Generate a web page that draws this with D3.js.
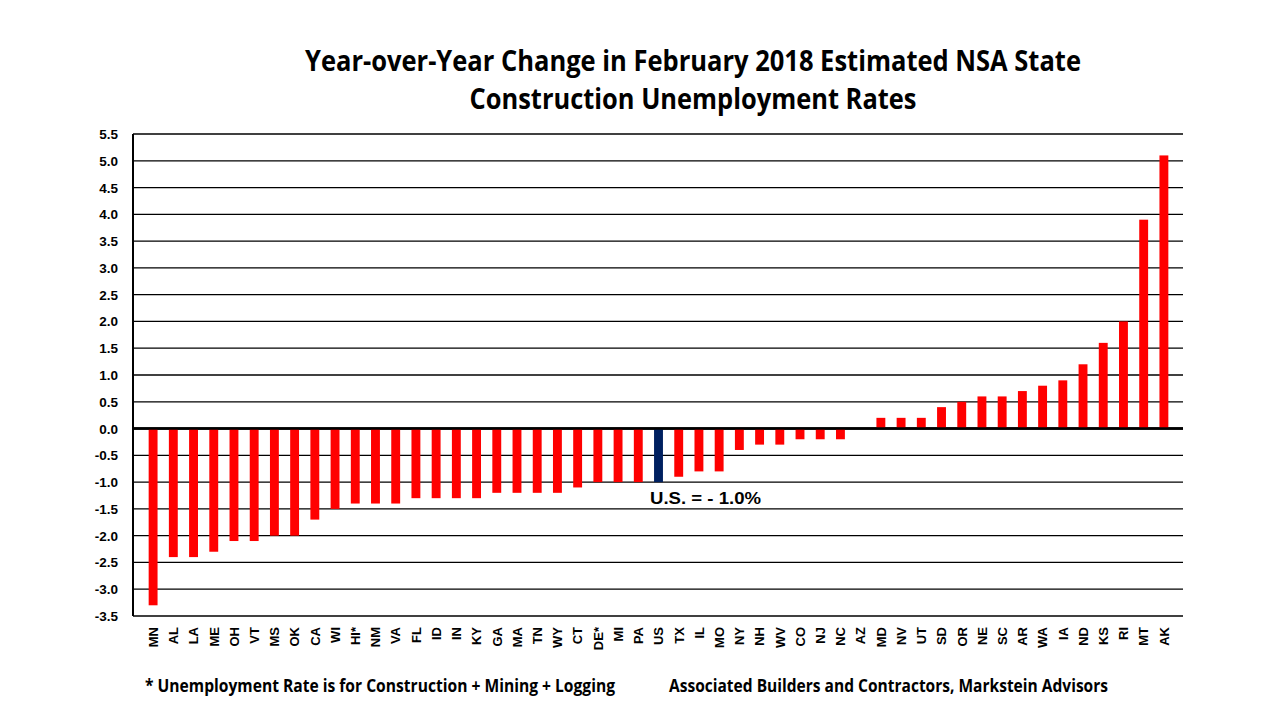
<!DOCTYPE html>
<html>
<head>
<meta charset="utf-8">
<script src="https://cdn.jsdelivr.net/npm/d3@7"></script>
<style>
	body { margin: 0; background: #fff; }
	svg { display: block; }
	.tick-label { font-family: "Liberation Sans", Arial, sans-serif; font-weight: bold; font-size: 13.5px; fill: #000; }
	.state-label { font-family: "Liberation Sans", Arial, sans-serif; font-weight: bold; font-size: 13px; fill: #000; }
	.title { font-family: "Open Sans", "Noto Sans", sans-serif; font-weight: bold; font-size: 29px; fill: #000; }
	.note { font-family: "Open Sans", "Noto Sans", sans-serif; font-weight: bold; font-size: 17px; fill: #000; }
</style>
</head>
<body>
<svg id="chart" width="1280" height="720"></svg>
<script>
const states = ["MN", "AL", "LA", "ME", "OH", "VT", "MS", "OK", "CA", "WI", "HI*", "NM", "VA", "FL", "ID", "IN", "KY",
	"GA", "MA", "TN", "WY", "CT", "DE*", "MI", "PA", "US", "TX", "IL", "MO", "NY", "NH", "WV", "CO", "NJ", "NC", "AZ",
	"MD", "NV", "UT", "SD", "OR", "NE", "SC", "AR", "WA", "IA", "ND", "KS", "RI", "MT", "AK"];
const changes = [-3.3, -2.4, -2.4, -2.3, -2.1, -2.1, -2.0, -2.0, -1.7, -1.5, -1.4, -1.4, -1.4, -1.3, -1.3, -1.3, -1.3,
	-1.2, -1.2, -1.2, -1.2, -1.1, -1.0, -1.0, -1.0, -1.0, -0.9, -0.8, -0.8, -0.4, -0.3, -0.3, -0.2, -0.2, -0.2, 0.0,
	0.2, 0.2, 0.2, 0.4, 0.5, 0.6, 0.6, 0.7, 0.8, 0.9, 1.2, 1.6, 2.0, 3.9, 5.1];
const yTicks = [-3.5, -3.0, -2.5, -2.0, -1.5, -1.0, -0.5, 0.0, 0.5, 1.0, 1.5, 2.0, 2.5, 3.0, 3.5, 4.0, 4.5, 5.0, 5.5];
const titleLines = ["Year-over-Year Change in February 2018 Estimated NSA State", "Construction Unemployment Rates"];
const usLabel = "U.S. = - 1.0%";
const footLeft = "* Unemployment Rate is for Construction + Mining + Logging";
const footRight = "Associated Builders and Contractors, Markstein Advisors";

const data = states.map((s, i) => ({ state: s, value: changes[i] }));
const svg = d3.select('#chart');

const plotLeft = 133;
const plotRight = 1183;
const plotTop = 134;
const plotBottom = 616;

const xScale = d3.scaleBand()
	.domain(states)
	.range([143, 1174])
	.paddingInner(0.56)
	.paddingOuter(0.28);

const yScale = d3.scaleLinear()
	.domain([-3.5, 5.5])
	.range([plotBottom, plotTop]);

// gridlines
svg.append('g')
	.selectAll('line')
	.data(yTicks)
	.enter()
	.append('line')
	.attr('x1', plotLeft)
	.attr('x2', plotRight)
	.attr('y1', d => yScale(d))
	.attr('y2', d => yScale(d))
	.attr('stroke', '#000')
	.attr('stroke-width', d => d === 0 ? 2.5 : 1.3);

// y labels
svg.append('g')
	.selectAll('text')
	.data(yTicks)
	.enter()
	.append('text')
	.attr('class', 'tick-label')
	.attr('x', 118)
	.attr('y', d => yScale(d) + 5)
	.attr('text-anchor', 'end')
	.text(d => d3.format('.1f')(d).replace('−', '-'));

// bars
svg.append('g')
	.selectAll('rect')
	.data(data)
	.enter()
	.append('rect')
	.attr('x', d => xScale(d.state))
	.attr('width', xScale.bandwidth())
	.attr('y', d => yScale(Math.max(0, d.value)))
	.attr('height', d => Math.abs(yScale(d.value) - yScale(0)))
	.attr('fill', d => d.state === 'US' ? '#002060' : '#ff0000');

// zero line and left axis on top
svg.append('line')
	.attr('x1', plotLeft).attr('x2', plotRight)
	.attr('y1', yScale(0)).attr('y2', yScale(0))
	.attr('stroke', '#000').attr('stroke-width', 2.5);

svg.append('line')
	.attr('x1', plotLeft).attr('x2', plotLeft)
	.attr('y1', yScale(5.5)).attr('y2', yScale(-3.5))
	.attr('stroke', '#000').attr('stroke-width', 2);

// state labels
svg.append('g')
	.selectAll('text')
	.data(states)
	.enter()
	.append('text')
	.attr('class', 'state-label')
	.attr('text-anchor', 'end')
	.attr('transform', d => `translate(${xScale(d) + xScale.bandwidth() / 2 + 4.8}, 627) rotate(-90)`)
	.text(d => d);

// title
svg.append('g')
	.selectAll('text')
	.data(titleLines)
	.enter()
	.append('text')
	.attr('class', 'title')
	.attr('x', 693)
	.attr('y', (d, i) => 71 + i * 38)
	.attr('text-anchor', 'middle')
	.attr('textLength', (d, i) => i === 0 ? 776 : 447)
	.attr('lengthAdjust', 'spacingAndGlyphs')
	.text(d => d);

// US annotation
svg.append('text')
	.attr('x', 650)
	.attr('y', 504)
	.style('font-family', '"Liberation Sans", Arial, sans-serif')
	.style('font-weight', 'bold')
	.style('font-size', '17px')
	.attr('textLength', 111)
	.attr('lengthAdjust', 'spacingAndGlyphs')
	.text(usLabel);

// footnotes
svg.append('text')
	.attr('class', 'note')
	.attr('x', 145)
	.attr('y', 692)
	.attr('textLength', 470)
	.attr('lengthAdjust', 'spacingAndGlyphs')
	.text(footLeft);

svg.append('text')
	.attr('class', 'note')
	.attr('x', 669)
	.attr('y', 692)
	.attr('textLength', 439)
	.attr('lengthAdjust', 'spacingAndGlyphs')
	.text(footRight);
</script>
</body>
</html>
